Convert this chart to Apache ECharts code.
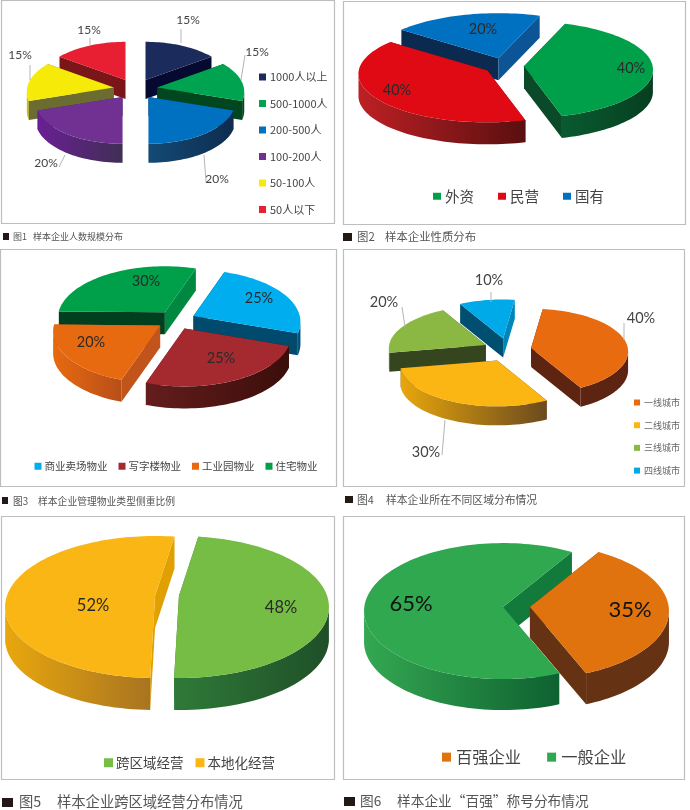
<!DOCTYPE html>
<html><head><meta charset="utf-8">
<style>html,body{margin:0;padding:0;background:#fff}#c{width:690px;height:810px}</style>
<script src="https://cdn.jsdelivr.net/npm/echarts@6/dist/echarts.min.js"></script>
</head><body><div id="c"></div>
<script>
// ---- data ----
const sizeCats = ['1000人以上','500-1000人','200-500人','100-200人','50-100人','50人以下'];
const sizeValues = [15,15,20,20,15,15];
const natureCats = ['外资','民营','国有'];
const natureValues = [40,40,20];
const propertyCats = ['商业卖场物业','写字楼物业','工业园物业','住宅物业'];
const propertyValues = [25,25,20,30];
const cityCats = ['一线城市','二线城市','三线城市','四线城市'];
const cityValues = [40,30,20,10];
const crossCats = ['跨区域经营','本地化经营'];
const crossValues = [48,52];
const topCats = ['百强企业','一般企业'];
const topValues = [35,65];
const figLabels = ['图1','图2','图3','图4','图5','图6'];
const captions = ['样本企业人数规模分布','样本企业性质分布','样本企业管理物业类型侧重比例','样本企业所在不同区域分布情况','样本企业跨区域经营分布情况','样本企业“百强”称号分布情况'];

// ---- layout & style ----
const FONT = '"Noto Sans CJK SC","Noto Sans",sans-serif';
const L1='Lato';
const charts = [
 {cats:sizeCats, vals:sizeValues, cx:135.5,cy:89,rx:87,ry:42.5,d:.1,depth:19,ex:22,ey:10,start:0, font:12,labelColor:'#444',
  frame:[1,0,333,223], sq:[3,233,6,7], figX:13, capX:33, capY:237, capFont:9,
  legend:{left:259,top:71.5,orient:'vertical',itemGap:15.5,itemWidth:7,itemHeight:7,fontSize:11,color:'#444',itemTextGap:4},
  colors:[
   {top:'#1b2b5c',side:['#101a48','#0a0d36'],faceS:'#0a0d36',faceE:'#060a30'},
   {top:'#00a450',side:['#00461f','#00461f'],faceS:'#00461f',faceE:'#00461f'},
   {top:'#0070c0',side:['#134a75','#0e2c4e'],faceS:'#0e2c4e',faceE:'#0e2c4e'},
   {top:'#703193',side:['#6a1f94','#3f2f55'],faceS:'#3f2f55',faceE:'#3f2f55'},
   {top:'#f5ea08',side:['#d8d010','#a0a020'],faceS:'#6c6c30',faceE:'#6c6c30'},
   {top:'#e81e33',side:['#7a1518','#7a1518'],faceS:'#7a1518',faceE:'#7a1518'}],
  labels:[[188,20],[257,52],[217,179],[46,163],[20,55],[89,30]],
  leaders:[[[181,43],[181,29]],[[241,80],[245,55]],[[204,155],[206,182],[211,182]],[[65,155],[59,167]],[[30,80],[30,65]],[[90,46],[90,38]]]},
 {cats:natureCats, vals:natureValues, cx:504,cy:66,rx:129,ry:48.5,d:.07,depth:22,ex:20,ey:8,start:20, font:14.5,labelColor:'#2a2a2a',
  frame:[343,1,342,223], sq:[343,233,9,8], figX:357, capX:385, capY:237, capFont:11.4,
  legend:{left:433,top:189,orient:'horizontal',itemGap:24,itemWidth:8,itemHeight:7,fontSize:14.5,color:'#444',itemTextGap:4},
  colors:[
   {top:'#00a04a',side:['#0a5a30','#063f20'],faceS:'#0a4a28',faceE:'#0a4a28'},
   {top:'#e00a14',side:['#bd2024','#5a0f10'],faceS:'#5a0f10',faceE:'#5a0f10'},
   {top:'#0070c0',side:['#0a4f90','#0a4f90'],faceS:'#0a2a50',faceE:'#0b5596'}],
  labels:[[631,68],[397,90],[483,29]]},
 {cats:propertyCats, vals:propertyValues, cx:176,cy:320,rx:107,ry:52,d:.115,depth:22,ex:19.4,ey:9.4,start:19, font:14.5,labelColor:'#2a2a2a',
  frame:[0,249,336,237], sq:[2,497,6,7], figX:13, capX:38, capY:501, capFont:9.8,
  legend:{left:34.5,top:461,orient:'horizontal',itemGap:11,itemWidth:7,itemHeight:7,fontSize:10.5,color:'#444',itemTextGap:3},
  colors:[
   {top:'#00aeef',side:['#0a5a80','#004a6e'],faceS:'#004a6e',faceE:'#004a6e'},
   {top:'#a52a30',side:['#641d1d','#3a0e0a'],faceS:'#3a0e0a',faceE:'#4a1410'},
   {top:'#e86a10',side:['#e86a10','#b84e18'],faceS:'#c0541a',faceE:'#c0541a'},
   {top:'#00a04a',side:['#008840','#004020'],faceS:'#00401f',faceE:'#008840'}],
  labels:[[259,298],[221,358],[91,342],[146,281]]},
 {cats:cityCats, vals:cityValues, cx:507.5,cy:350,rx:97,ry:42.5,d:.08,depth:19,ex:24,ey:11.6,start:7.5, font:14.5,labelColor:'#444',
  frame:[343,249,341,237], sq:[345,496,8,7], figX:357, capX:386, capY:500, capFont:10.8,
  legend:{left:634,top:398,orient:'vertical',itemGap:13.7,itemWidth:6,itemHeight:6,fontSize:9,color:'#666',itemTextGap:4},
  colors:[
   {top:'#e96b10',side:['#5e2412','#5e2412'],faceS:'#5e2412',faceE:'#5e2412'},
   {top:'#fbb614',side:['#e8a60c','#6b4a1e'],faceS:'#6b4a1e',faceE:'#6b4a1e'},
   {top:'#8ab843',side:['#35461f','#35461f'],faceS:'#35461f',faceE:'#35461f'},
   {top:'#00a9e8',side:['#004f70','#0086b8'],faceS:'#004f70',faceE:'#0086b8'}],
  labels:[[641,318],[426,452],[384,302],[489,280]],
  leaders:[[[624,340],[624,323]],[[445,420],[442,455]],[[405,327],[402,307]],[[491,302],[491,292]]]},
 {cats:crossCats, vals:crossValues, cx:167,cy:596,rx:150,ry:71,d:.155,depth:32,ex:12,ey:0,start:8.8, font:16.5,labelColor:'#2a2a2a',
  frame:[1,516,333,263], sq:[2,798,11,9], figX:19, capX:57, capY:802, capFont:14.3,
  legend:{left:104,top:756,orient:'horizontal',itemGap:12,itemWidth:9,itemHeight:9,fontSize:13.5,color:'#444',itemTextGap:3},
  colors:[
   {top:'#75bd44',side:['#2f7a38','#1f4f28'],faceS:'#2f7a38',faceE:'#2f7a38'},
   {top:'#fab614',side:['#e9a70d','#a87421'],faceS:'#e0a000',faceE:'#e0a000'}],
  labels:[[281,608],[93,606]]},
 {cats:topCats, vals:topValues, cx:516.5,cy:607,rx:139,ry:68,d:.06,depth:31,ex:13.5,ey:0,start:31.5, font:22,labelColor:'#111',
  frame:[343,516,341,263], sq:[344,797,11,9], figX:360, capX:397, capY:801, capFont:13.7,
  legend:{left:442,top:749,orient:'horizontal',itemGap:26,itemWidth:9,itemHeight:9,fontSize:16.3,color:'#444',itemTextGap:5,textDrop:6},
  colors:[
   {top:'#e0730d',side:['#653213','#653213'],faceS:'#653213',faceE:'#653213'},
   {top:'#2fa84f',side:['#34a852','#0e6130'],faceS:'#127a3a',faceE:'#127a3a'}],
  labels:[[630,610],[411,604]]}
];

const rad = a => a*Math.PI/180;
function rimPoint(c, ax, ay, deg){
  const s=Math.sin(rad(deg)), k=Math.cos(rad(deg));
  const t=-c.d*k+Math.sqrt(1-c.d*c.d*s*s);
  return {x:ax+c.rx*t*s, y:ay-c.ry*t*k, lower:(c.d+t*k)<=0};
}
function grad(a,b){return {type:'linear',x:0,y:0,x2:1,y2:0,colorStops:[{offset:0,color:a},{offset:1,color:b}]};}

function sliceRenderer(c,i){
  const total=c.vals.reduce((p,q)=>p+q,0);
  const before=c.vals.slice(0,i).reduce((p,q)=>p+q,0);
  return function(params,api){
    const a0=c.start+360*before/total, a1=a0+360*api.value(0)/total, mid=(a0+a1)/2;
    const ax=c.cx+c.ex*Math.sin(rad(mid)), ay=c.cy-c.ey*Math.cos(rad(mid));
    const col=c.colors[i], kids=[];
    const arc=[],low=[];
    const n=Math.max(8,Math.ceil((a1-a0)/2));
    for(let k=0;k<=n;k++){const p=rimPoint(c,ax,ay,a0+(a1-a0)*k/n);arc.push([p.x,p.y]);if(p.lower)low.push([p.x,p.y]);}
    const first=arc[0],last=arc[arc.length-1];
    const face=(p,f)=>({type:'polygon',shape:{points:[[ax,ay],p,[p[0],p[1]+c.depth],[ax,ay+c.depth]]},style:{fill:f}});
    kids.push(face(first,col.faceS));
    kids.push(face(last,col.faceE));
    if(low.length>1){
      const sidePts=low.concat(low.slice().reverse().map(p=>[p[0],p[1]+c.depth]));
      kids.push({type:'polygon',shape:{points:sidePts},style:{fill:grad(col.side[0],col.side[1])}});
    }
    kids.push({type:'polygon',shape:{points:[[ax,ay]].concat(arc)},style:{fill:col.top}});
    if(c.leaders&&c.leaders[i]){
      kids.push({type:'polyline',shape:{points:c.leaders[i]},style:{fill:null,stroke:'#b5b5b5',lineWidth:1},z2:5});
    }
    const lab=c.labels[i];
    kids.push({type:'text',z2:6,style:{x:lab[0],y:lab[1],text:api.value(0)+'%',align:'center',verticalAlign:'middle',
      fontFamily:L1,fontSize:c.font,fill:c.labelColor}});
    return {type:'group',children:kids};
  };
}

const series=[], legends=[], graphics=[];
charts.forEach(c=>{
  const total=c.vals.reduce((p,q)=>p+q,0);
  let cum=0;
  const depths=c.vals.map(v=>{const m=c.start+360*(cum+v/2)/total;cum+=v;return Math.cos(rad(m));});
  const order=depths.map((d,i)=>[d,i]).sort((a,b)=>b[0]-a[0]).map(o=>o[1]);
  c.cats.forEach((name,i)=>{
    series.push({type:'custom',name,coordinateSystem:'none',silent:true,clip:false,animation:false,
      z:3+order.indexOf(i),itemStyle:{color:c.colors[i].top},
      renderItem:sliceRenderer(c,i),data:[[c.vals[i]]]});
  });
  const g=c.legend;
  legends.push({data:c.cats,selectedMode:false,icon:'rect',left:g.left,top:g.top,orient:g.orient,itemGap:g.itemGap,
    itemWidth:g.itemWidth,itemHeight:g.itemHeight,padding:0,itemStyle:{borderWidth:0},
    textStyle:{fontFamily:FONT,fontSize:g.fontSize,color:g.color,padding:[g.textDrop||0,0,0,g.itemTextGap-5]}});
  graphics.push({type:'rect',z:1,silent:true,shape:{x:c.frame[0]+.5,y:c.frame[1]+.5,width:c.frame[2],height:c.frame[3]},style:{fill:'#fff',stroke:'#bdbdbd',lineWidth:1.2}});
});
charts.forEach((c,i)=>{
  graphics.push({type:'rect',silent:true,shape:{x:c.sq[0],y:c.sq[1],width:c.sq[2],height:c.sq[3]},style:{fill:'#231815'}});
  graphics.push({type:'text',silent:true,style:{x:c.figX,y:c.capY,text:figLabels[i],verticalAlign:'middle',fontFamily:FONT,fontSize:c.capFont,fill:'#555'}});
  graphics.push({type:'text',silent:true,style:{x:c.capX,y:c.capY,text:captions[i],verticalAlign:'middle',fontFamily:FONT,fontSize:c.capFont,fill:'#555'}});
});

const chart=echarts.init(document.getElementById('c'),null,{width:690,height:810});
chart.setOption({animation:false,backgroundColor:'#fff',legend:legends,series,graphic:{elements:graphics}});
</script></body></html>
